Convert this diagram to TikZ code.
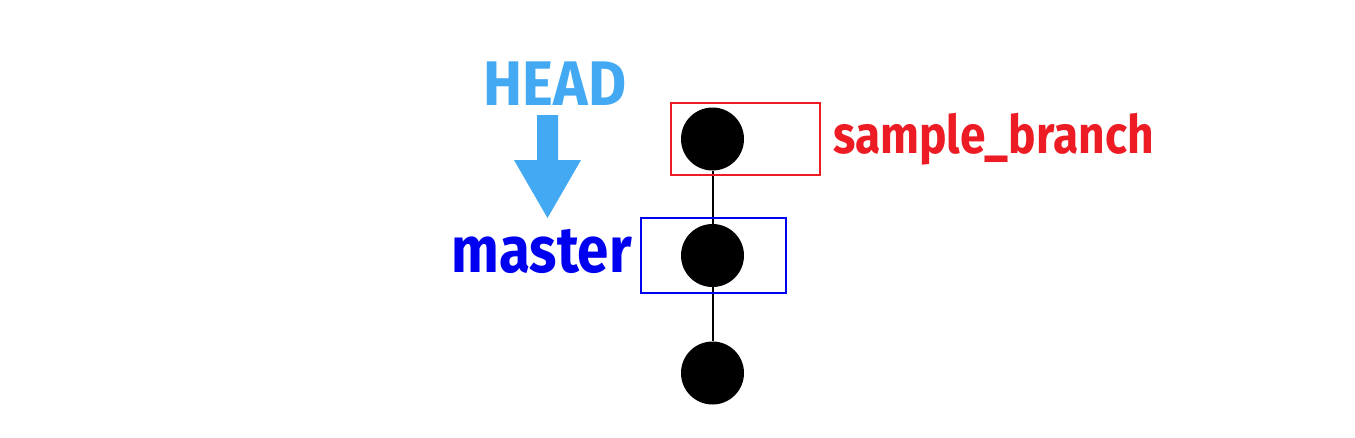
\documentclass[tikz,border=0pt]{standalone}
\usepackage{fontspec}
\usepackage{xcolor}
\usepackage{tikz}
\usetikzlibrary{positioning}
\newfontfamily\labelfont[FakeStretch=0.87]{Fira Sans}
\newfontfamily\headfont[FakeStretch=0.93]{Fira Sans}
\definecolor{headblue}{RGB}{66,169,242}
\definecolor{masterblue}{RGB}{0,0,240}
\definecolor{branchred}{RGB}{237,28,36}

\begin{document}
\begin{tikzpicture}[
    x=1pt, y=-1pt,
    commit/.style={circle, fill=black, inner sep=0pt, minimum size=63pt},
    refbox/.style={rectangle, draw, line width=1.5pt, inner sep=0pt},
    reflabel/.style={inner sep=0pt, font=\labelfont\bfseries}
]
\useasboundingbox (0,0) rectangle (1355,437);

% Commits
\node[commit] (c1) at (712.5,139) {};
\node[commit] (c2) at (712.5,255.5) {};
\node[commit] (c3) at (712.5,373) {};

\draw[line width=2pt] (c1) -- (c2);
\draw[line width=2pt] (c2) -- (c3);

% Branch boxes
\node[refbox, draw=branchred, minimum width=149pt, minimum height=72pt] (branchbox) at (745.5,139) {};
\node[refbox, draw=masterblue, minimum width=145pt, minimum height=75pt] (masterbox) at (713.5,255.5) {};

% Labels
\node[reflabel, text=branchred, font=\labelfont\bfseries\fontsize{53}{53}\selectfont, anchor=base west] (branch) at (833,153) {sample\_branch};
\node[reflabel, text=masterblue, font=\labelfont\bfseries\fontsize{65}{65}\selectfont, anchor=base east] (master) at (632,272) {master};
\node[reflabel, text=headblue, font=\headfont\bfseries\fontsize{63}{63}\selectfont, anchor=base] (head) at (555,105) {HEAD};

% HEAD arrow
\fill[headblue] (537,115) -- (558,115) -- (558,160) -- (581,160) -- (547.5,218) -- (514,160) -- (537,160) -- cycle;

\end{tikzpicture}
\end{document}
